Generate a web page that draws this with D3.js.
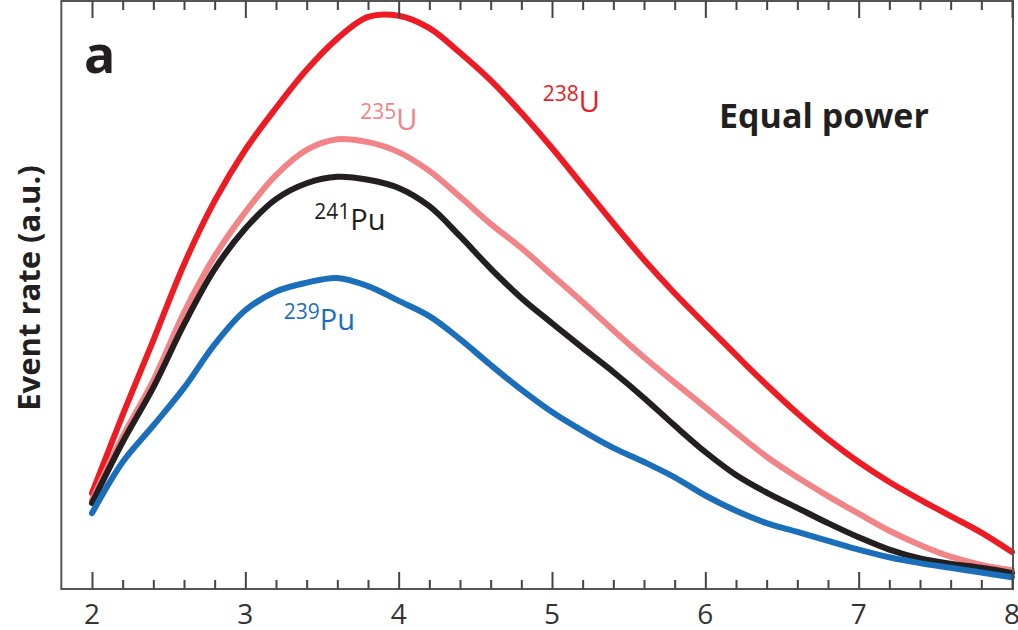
<!DOCTYPE html>
<html>
<head>
<meta charset="utf-8">
<script src="https://cdn.jsdelivr.net/npm/d3@7"></script>
<style>
  body { margin: 0; background: #fff; }
  text { font-family: "Open Sans", "Noto Sans", sans-serif; }
</style>
</head>
<body>
<div id="chart"></div>
<script>
// antineutrino energy (MeV)
var energy = [2.0, 2.2, 2.4, 2.6, 2.8, 3.0, 3.2, 3.4, 3.6, 3.8, 4.0, 4.2, 4.4, 4.6, 4.8,
              5.0, 5.2, 5.4, 5.6, 5.8, 6.0, 6.2, 6.4, 6.6, 6.8, 7.0, 7.2, 7.4, 7.6, 7.8, 8.0];

// event rate, arbitrary units
var u238 = [16.3, 29.6, 42.3, 55.2, 66.0, 74.7, 81.8, 88.3, 93.6, 97.3, 97.5, 95.4, 91.2, 86.5, 81.0,
            75.0, 68.6, 62.2, 56.0, 50.3, 45.0, 39.8, 34.7, 29.9, 25.5, 21.6, 18.2, 15.2, 12.4, 9.6, 6.3];
var u235 = [15.1, 25.9, 35.5, 47.0, 56.6, 64.1, 70.4, 74.7, 76.5, 76.0, 74.3, 71.1, 66.7, 62.1, 58.0,
            53.4, 48.8, 44.0, 39.4, 35.1, 30.9, 26.6, 22.5, 19.0, 15.8, 12.8, 9.9, 7.5, 5.5, 4.1, 3.2];
var pu241 = [14.6, 25.0, 34.3, 45.0, 54.4, 61.3, 66.3, 69.0, 70.1, 69.6, 68.2, 65.1, 60.0, 54.5, 49.5,
             45.2, 41.0, 36.9, 32.5, 27.8, 23.3, 19.4, 16.4, 13.8, 11.2, 8.8, 6.7, 5.2, 4.3, 3.6, 2.7];
var pu239 = [12.9, 21.6, 27.8, 34.2, 41.6, 47.4, 50.6, 52.1, 52.9, 51.5, 49.0, 46.4, 42.5, 38.1, 33.9,
             30.1, 26.9, 24.0, 21.6, 19.0, 15.9, 13.3, 11.2, 9.7, 8.2, 6.7, 5.4, 4.4, 3.6, 2.8, 2.0];

var majorTicks = [2, 3, 4, 5, 6, 7, 8];
var minorTicks = d3.range(2, 8.001, 0.2).filter(function (v) { return Math.abs(v - Math.round(v)) > 0.01; });

var series = [
  { name: "238", el: "U",  values: u238,  color: "#ed1c24", lx: 4.94, ly: 81.1 },
  { name: "235", el: "U",  values: u235,  color: "#f08486", lx: 3.75, ly: 78.1 },
  { name: "241", el: "Pu", values: pu241, color: "#231f20", lx: 3.45, ly: 61.1 },
  { name: "239", el: "Pu", values: pu239, color: "#1b6eb9", lx: 3.25, ly: 44.0 }
];

var width = 1018, height = 630;
var svg = d3.select("#chart").append("svg")
    .attr("width", width)
    .attr("height", height);

var x = d3.scaleLinear().domain([2, 8]).range([92, 1012]);
var y = d3.scaleLinear().domain([0, 100]).range([589, 1]);

// series lines
var line = d3.line()
    .x(function (d) { return x(d[0]); })
    .y(function (d) { return y(d[1]); })
    .curve(d3.curveCatmullRom.alpha(0.5));

svg.selectAll("path.series")
    .data(series)
    .enter()
    .append("path")
    .attr("class", "series")
    .attr("fill", "none")
    .attr("stroke", function (d) { return d.color; })
    .attr("stroke-width", 6)
    .attr("stroke-linecap", "round")
    .attr("d", function (d) { return line(d3.zip(energy, d.values)); });

// frame
svg.append("rect")
    .attr("x", x(1.8))
    .attr("y", y(100))
    .attr("width", x(8) + 1 - x(1.8))
    .attr("height", y(0) - y(100))
    .attr("fill", "none")
    .attr("stroke", "#555")
    .attr("stroke-width", 2);

// ticks, pointing inward on bottom and top
function tickAxis(axisFn, ty, vals, size) {
  var g = svg.append("g")
      .attr("transform", "translate(0," + ty + ")")
      .call(axisFn(x).tickValues(vals).tickSize(-size).tickFormat(""));
  g.select(".domain").remove();
  g.selectAll("line").attr("stroke", "#444").attr("stroke-width", 2);
  return g;
}
tickAxis(d3.axisBottom, y(0), majorTicks, 17);
tickAxis(d3.axisBottom, y(0), minorTicks, 9);
tickAxis(d3.axisTop, y(100), majorTicks, 17);
tickAxis(d3.axisTop, y(100), minorTicks, 9);

// tick labels
svg.selectAll("text.tick-label")
    .data(majorTicks)
    .enter()
    .append("text")
    .attr("class", "tick-label")
    .attr("x", function (d) { return x(d); })
    .attr("y", 624)
    .attr("text-anchor", "middle")
    .attr("font-size", 28)
    .attr("fill", "#333")
    .text(function (d) { return d; });

// y axis title
svg.append("text")
    .attr("transform", "translate(40,288) rotate(-90)")
    .attr("text-anchor", "middle")
    .attr("font-size", 31)
    .attr("font-weight", "bold")
    .attr("fill", "#231f20")
    .text("Event rate (a.u.)");

// panel letter
svg.append("text")
    .attr("x", 84)
    .attr("y", 73)
    .attr("font-size", 52)
    .attr("font-weight", "bold")
    .attr("fill", "#231f20")
    .text("a");

svg.append("text")
    .attr("x", 719)
    .attr("y", 128)
    .attr("font-size", 34)
    .attr("font-weight", "bold")
    .attr("fill", "#231f20")
    .text("Equal power");

// series labels with superscript mass numbers
var labels = svg.selectAll("text.iso")
    .data(series)
    .enter()
    .append("text")
    .attr("class", "iso")
    .attr("x", function (d) { return x(d.lx); })
    .attr("y", function (d) { return y(d.ly); })
    .attr("fill", function (d) { return d.color; })
    .attr("font-size", 29);
labels.append("tspan")
    .attr("font-size", 21)
    .attr("dy", -11)
    .text(function (d) { return d.name; });
labels.append("tspan")
    .attr("dy", 11)
    .text(function (d) { return d.el; });
</script>
</body>
</html>
